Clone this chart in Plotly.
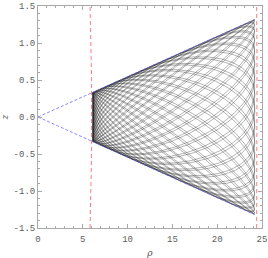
import numpy as np
import plotly.graph_objects as go

# --- values -------------------------------------------------------------
r_peri = 6.1            # pericentre radius of the orbit
r_apo = 24.2            # apocentre radius of the orbit
incl_deg = 3.12         # half-opening of the cone (orbit inclination)
n_orbits = 38           # radial periods drawn
precession_turns = 1.0  # drift of vertical phase vs radial phase over the plot
phase0 = 0.35           # initial vertical phase
r_inner_mark = 6.0      # red dashed sphere (inner)
r_outer_mark = 24.45    # red dashed sphere (outer)

x_ticks = [0, 5, 10, 15, 20, 25]
x_tick_labels = ["0", "5", "10", "15", "20", "25"]
y_ticks = [-1.5, -1.0, -0.5, 0.0, 0.5, 1.0, 1.5]
y_tick_labels = ["-1.5", "-1.0", "-0.5", "0.0", "0.5", "1.0", "1.5"]

# --- orbit in the meridional plane ---------------------------------------
p = 2 * r_peri * r_apo / (r_peri + r_apo)
ecc = (r_apo - r_peri) / (r_apo + r_peri)
inc = np.radians(incl_deg)
chi = np.linspace(0, 2 * np.pi * n_orbits, 420 * n_orbits)
eps = precession_turns / n_orbits
psi = (1 + eps) * chi + phase0
r = p / (1 + ecc * np.cos(chi))
lat = np.arcsin(np.sin(inc) * np.sin(psi))
rho = r * np.cos(lat)
zz = r * np.sin(lat)

fig = go.Figure()
fig.add_trace(go.Scatter(x=rho, y=zz, mode="lines",
                         line=dict(color="rgba(0,0,0,0.45)", width=0.65),
                         hoverinfo="skip", showlegend=False))

# cone lines
rc = r_apo * np.cos(inc)
for s in (1, -1):
    fig.add_trace(go.Scatter(x=[0, rc], y=[0, s * r_apo * np.sin(inc)], mode="lines",
                             line=dict(color="rgba(105,105,255,0.8)", width=1, dash="3px,2px"),
                             hoverinfo="skip", showlegend=False))

# spheres
zs = np.linspace(-1.5, 1.5, 50)
for R in (r_inner_mark, r_outer_mark):
    fig.add_trace(go.Scatter(x=np.sqrt(R**2 - zs**2), y=zs, mode="lines",
                             line=dict(color="rgba(255,110,110,0.9)", width=1, dash="4px,3px"),
                             hoverinfo="skip", showlegend=False))

axis_common = dict(showline=True, linecolor="#a8a8a8", linewidth=1, mirror="ticks",
                   ticks="inside", tickcolor="#a8a8a8", ticklen=4, tickwidth=1,
                   showgrid=False, zeroline=False, ticklabeloverflow="allow",
                   automargin=False,
                   tickfont=dict(family="Liberation Mono, Courier New, monospace",
                                 size=9, color="#606060"))

fig.update_xaxes(range=[0, 25], tickvals=x_ticks, ticktext=x_tick_labels,
                 minor=dict(ticks="inside", dtick=1, ticklen=2, tickcolor="#a8a8a8"),
                 ticklabelstandoff=2,
                 title=dict(text="<i>ρ</i>", standoff=7,
                            font=dict(family="DejaVu Serif", size=9, color="#505050")),
                 **axis_common)
fig.update_yaxes(range=[-1.5, 1.5], tickvals=y_ticks, ticktext=y_tick_labels,
                 minor=dict(ticks="inside", dtick=0.1, ticklen=2, tickcolor="#a8a8a8"),
                 title=dict(text="<i>z</i>", standoff=5,
                            font=dict(family="DejaVu Serif", size=9, color="#505050")),
                 **axis_common)

fig.update_layout(width=268, height=258, margin=dict(l=38, r=6, t=6, b=30),
                  paper_bgcolor="white", plot_bgcolor="white")
fig.write_html("out.html", config={"displayModeBar": False},
               post_script="document.body.style.margin='0px';document.body.style.padding='0px';")
